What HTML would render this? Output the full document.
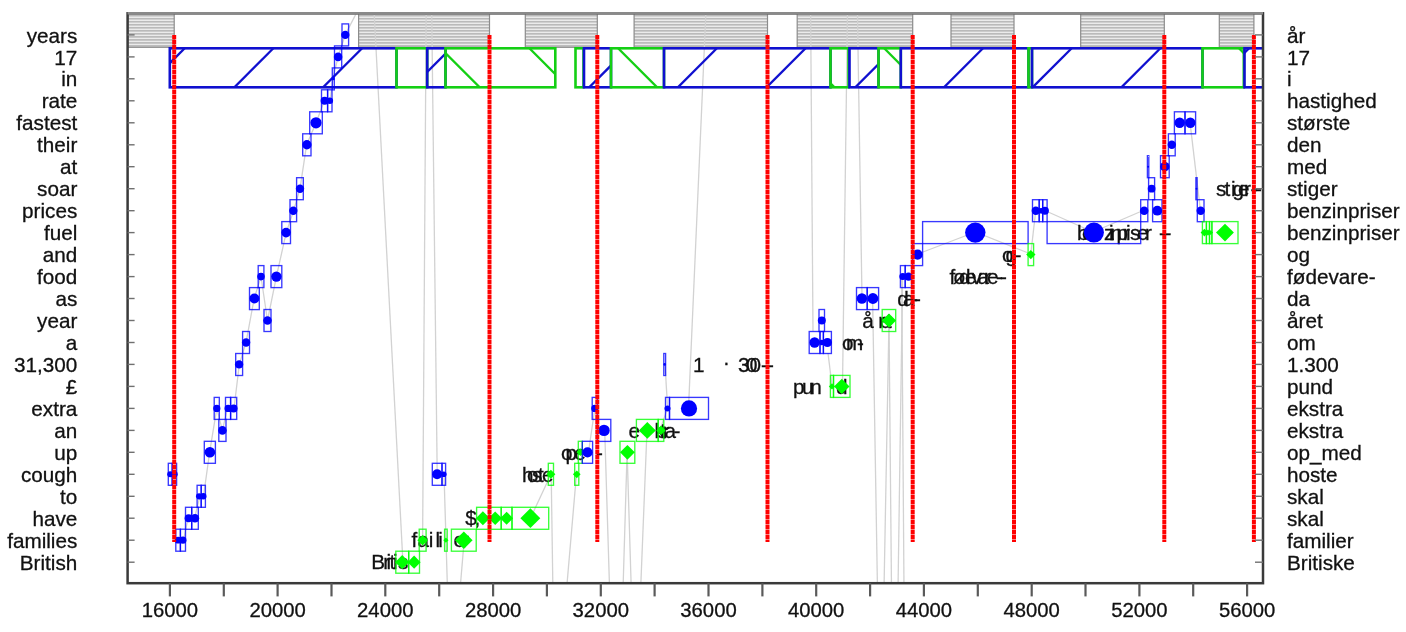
<!DOCTYPE html>
<html><head><meta charset="utf-8"><title>Fixation plot</title>
<style>html,body{margin:0;padding:0;background:#fff;overflow:hidden}svg{display:block;filter:blur(0.45px)}</style>
</head><body>
<svg width="1406" height="632" viewBox="0 0 1406 632">
<defs><pattern id="hz" x="0" y="14.2" width="6" height="3.02" patternUnits="userSpaceOnUse"><rect x="0" y="0" width="6" height="3.02" fill="#ebebeb"/><rect x="0" y="0.9" width="6" height="1.3" fill="#b0b0b0"/></pattern><clipPath id="plot"><rect x="127.6" y="13.3" width="1135.4" height="569.9"/></clipPath></defs>
<rect x="127.6" y="13.3" width="46.6" height="34.0" fill="url(#hz)" stroke="#8c8c8c" stroke-width="1.2"/>
<rect x="358.6" y="13.3" width="130.9" height="34.0" fill="url(#hz)" stroke="#8c8c8c" stroke-width="1.2"/>
<rect x="525.3" y="13.3" width="72.0" height="34.0" fill="url(#hz)" stroke="#8c8c8c" stroke-width="1.2"/>
<rect x="634.1" y="13.3" width="133.4" height="34.0" fill="url(#hz)" stroke="#8c8c8c" stroke-width="1.2"/>
<rect x="797.2" y="13.3" width="115.5" height="34.0" fill="url(#hz)" stroke="#8c8c8c" stroke-width="1.2"/>
<rect x="951.0" y="13.3" width="63.0" height="34.0" fill="url(#hz)" stroke="#8c8c8c" stroke-width="1.2"/>
<rect x="1080.7" y="13.3" width="83.6" height="34.0" fill="url(#hz)" stroke="#8c8c8c" stroke-width="1.2"/>
<rect x="1219.3" y="13.3" width="34.6" height="34.0" fill="url(#hz)" stroke="#8c8c8c" stroke-width="1.2"/>
<g clip-path="url(#plot)">
<line x1="345.3" y1="34.6" x2="358.0" y2="10.0" stroke="#d2d2d2" stroke-width="1.3"/>
<line x1="374.0" y1="10.0" x2="402.9" y2="561.7" stroke="#d2d2d2" stroke-width="1.3"/>
<line x1="426.2" y1="10.0" x2="422.6" y2="539.7" stroke="#d2d2d2" stroke-width="1.3"/>
<line x1="431.7" y1="10.0" x2="437.2" y2="473.8" stroke="#d2d2d2" stroke-width="1.3"/>
<line x1="444.0" y1="473.8" x2="447.5" y2="590.0" stroke="#d2d2d2" stroke-width="1.3"/>
<line x1="464.2" y1="540.0" x2="460.0" y2="590.0" stroke="#d2d2d2" stroke-width="1.3"/>
<line x1="530.7" y1="517.7" x2="551.2" y2="473.8" stroke="#d2d2d2" stroke-width="1.3"/>
<line x1="551.2" y1="473.8" x2="552.9" y2="590.0" stroke="#d2d2d2" stroke-width="1.3"/>
<line x1="576.5" y1="473.8" x2="566.5" y2="590.0" stroke="#d2d2d2" stroke-width="1.3"/>
<line x1="588.5" y1="452.0" x2="594.9" y2="408.0" stroke="#d2d2d2" stroke-width="1.3"/>
<line x1="604.7" y1="430.0" x2="609.6" y2="590.0" stroke="#d2d2d2" stroke-width="1.3"/>
<line x1="627.1" y1="452.0" x2="623.0" y2="590.0" stroke="#d2d2d2" stroke-width="1.3"/>
<line x1="627.1" y1="452.0" x2="631.3" y2="590.0" stroke="#d2d2d2" stroke-width="1.3"/>
<line x1="647.0" y1="430.0" x2="640.6" y2="590.0" stroke="#d2d2d2" stroke-width="1.3"/>
<line x1="660.0" y1="430.0" x2="667.6" y2="408.0" stroke="#d2d2d2" stroke-width="1.3"/>
<line x1="706.0" y1="10.0" x2="688.5" y2="408.0" stroke="#d2d2d2" stroke-width="1.3"/>
<line x1="665.0" y1="364.0" x2="667.6" y2="408.0" stroke="#d2d2d2" stroke-width="1.3"/>
<line x1="810.6" y1="10.0" x2="813.0" y2="331.0" stroke="#d2d2d2" stroke-width="1.3"/>
<line x1="847.5" y1="10.0" x2="842.5" y2="386.0" stroke="#d2d2d2" stroke-width="1.3"/>
<line x1="857.4" y1="10.0" x2="862.0" y2="298.0" stroke="#d2d2d2" stroke-width="1.3"/>
<line x1="828.0" y1="353.0" x2="832.0" y2="386.0" stroke="#d2d2d2" stroke-width="1.3"/>
<line x1="872.6" y1="298.0" x2="877.5" y2="590.0" stroke="#d2d2d2" stroke-width="1.3"/>
<line x1="889.0" y1="320.0" x2="891.5" y2="590.0" stroke="#d2d2d2" stroke-width="1.3"/>
<line x1="901.7" y1="276.0" x2="904.0" y2="590.0" stroke="#d2d2d2" stroke-width="1.3"/>
<line x1="884.0" y1="590.0" x2="889.0" y2="320.0" stroke="#d2d2d2" stroke-width="1.3"/>
<line x1="898.0" y1="590.0" x2="902.6" y2="276.0" stroke="#d2d2d2" stroke-width="1.3"/>
<line x1="917.8" y1="254.0" x2="975.4" y2="232.0" stroke="#d2d2d2" stroke-width="1.3"/>
<line x1="975.4" y1="232.0" x2="1030.8" y2="254.0" stroke="#d2d2d2" stroke-width="1.3"/>
<line x1="1030.8" y1="254.0" x2="1035.8" y2="210.0" stroke="#d2d2d2" stroke-width="1.3"/>
<line x1="1043.7" y1="210.0" x2="1093.0" y2="232.0" stroke="#d2d2d2" stroke-width="1.3"/>
<line x1="1093.0" y1="232.0" x2="1144.3" y2="210.0" stroke="#d2d2d2" stroke-width="1.3"/>
<line x1="1190.0" y1="122.4" x2="1200.4" y2="210.0" stroke="#d2d2d2" stroke-width="1.3"/>
<polyline fill="none" stroke="#d2d2d2" stroke-width="1.3" points="179.4,540.2 183.5,540.2 188.1,518.2 194.5,518.2 199.9,496.3 203.5,496.3 209.6,452.3 216.8,408.4 222.4,430.4 227.5,408.4 234.0,408.4 239.3,364.4 246.0,342.5 254.2,298.5 261.0,276.6 267.5,320.5 276.4,276.6 286.2,232.6 293.6,210.7 300.0,188.7 306.6,144.8 316.1,122.8 324.3,100.8 330.0,100.8 333.0,78.8 338.0,56.9 345.3,34.9"/>
<clipPath id="c1"><rect x="169.8" y="48.3" width="226.7" height="39.0"/></clipPath>
<line clip-path="url(#c1)" x1="145.7" y1="87.3" x2="184.7" y2="48.3" stroke="#1010cf" stroke-width="2.3"/>
<line clip-path="url(#c1)" x1="234.4" y1="87.3" x2="273.4" y2="48.3" stroke="#1010cf" stroke-width="2.3"/>
<line clip-path="url(#c1)" x1="323.1" y1="87.3" x2="362.1" y2="48.3" stroke="#1010cf" stroke-width="2.3"/>
<rect x="169.8" y="48.3" width="226.7" height="39.0" fill="none" stroke="#1010cf" stroke-width="2.6"/>
<clipPath id="c2"><rect x="396.5" y="48.3" width="30.7" height="39.0"/></clipPath>
<rect x="396.5" y="48.3" width="30.7" height="39.0" fill="none" stroke="#14cf14" stroke-width="2.6"/>
<clipPath id="c3"><rect x="427.2" y="48.3" width="18.3" height="39.0"/></clipPath>
<line clip-path="url(#c3)" x1="411.8" y1="87.3" x2="450.8" y2="48.3" stroke="#1010cf" stroke-width="2.3"/>
<rect x="427.2" y="48.3" width="18.3" height="39.0" fill="none" stroke="#1010cf" stroke-width="2.6"/>
<clipPath id="c4"><rect x="445.5" y="48.3" width="109.8" height="39.0"/></clipPath>
<line clip-path="url(#c4)" x1="440.7" y1="48.3" x2="479.7" y2="87.3" stroke="#14cf14" stroke-width="2.3"/>
<line clip-path="url(#c4)" x1="529.4" y1="48.3" x2="568.4" y2="87.3" stroke="#14cf14" stroke-width="2.3"/>
<rect x="445.5" y="48.3" width="109.8" height="39.0" fill="none" stroke="#14cf14" stroke-width="2.6"/>
<clipPath id="c5"><rect x="575.5" y="48.3" width="8.0" height="39.0"/></clipPath>
<rect x="575.5" y="48.3" width="8.0" height="39.0" fill="none" stroke="#14cf14" stroke-width="2.6"/>
<clipPath id="c6"><rect x="584.0" y="48.3" width="27.0" height="39.0"/></clipPath>
<line clip-path="url(#c6)" x1="589.2" y1="87.3" x2="628.2" y2="48.3" stroke="#1010cf" stroke-width="2.3"/>
<rect x="584.0" y="48.3" width="27.0" height="39.0" fill="none" stroke="#1010cf" stroke-width="2.6"/>
<clipPath id="c7"><rect x="611.0" y="48.3" width="53.0" height="39.0"/></clipPath>
<line clip-path="url(#c7)" x1="618.1" y1="48.3" x2="657.1" y2="87.3" stroke="#14cf14" stroke-width="2.3"/>
<rect x="611.0" y="48.3" width="53.0" height="39.0" fill="none" stroke="#14cf14" stroke-width="2.6"/>
<clipPath id="c8"><rect x="664.0" y="48.3" width="166.5" height="39.0"/></clipPath>
<line clip-path="url(#c8)" x1="677.9" y1="87.3" x2="716.9" y2="48.3" stroke="#1010cf" stroke-width="2.3"/>
<line clip-path="url(#c8)" x1="766.6" y1="87.3" x2="805.6" y2="48.3" stroke="#1010cf" stroke-width="2.3"/>
<rect x="664.0" y="48.3" width="166.5" height="39.0" fill="none" stroke="#1010cf" stroke-width="2.6"/>
<clipPath id="c9"><rect x="830.5" y="48.3" width="18.0" height="39.0"/></clipPath>
<line clip-path="url(#c9)" x1="795.5" y1="48.3" x2="834.5" y2="87.3" stroke="#14cf14" stroke-width="2.3"/>
<rect x="830.5" y="48.3" width="18.0" height="39.0" fill="none" stroke="#14cf14" stroke-width="2.6"/>
<clipPath id="c10"><rect x="849.5" y="48.3" width="29.0" height="39.0"/></clipPath>
<line clip-path="url(#c10)" x1="855.3" y1="87.3" x2="894.3" y2="48.3" stroke="#1010cf" stroke-width="2.3"/>
<rect x="849.5" y="48.3" width="29.0" height="39.0" fill="none" stroke="#1010cf" stroke-width="2.6"/>
<clipPath id="c11"><rect x="878.5" y="48.3" width="22.3" height="39.0"/></clipPath>
<line clip-path="url(#c11)" x1="884.2" y1="48.3" x2="923.2" y2="87.3" stroke="#14cf14" stroke-width="2.3"/>
<rect x="878.5" y="48.3" width="22.3" height="39.0" fill="none" stroke="#14cf14" stroke-width="2.6"/>
<clipPath id="c12"><rect x="900.8" y="48.3" width="127.7" height="39.0"/></clipPath>
<line clip-path="url(#c12)" x1="944.0" y1="87.3" x2="983.0" y2="48.3" stroke="#1010cf" stroke-width="2.3"/>
<rect x="900.8" y="48.3" width="127.7" height="39.0" fill="none" stroke="#1010cf" stroke-width="2.6"/>
<clipPath id="c13"><rect x="1028.5" y="48.3" width="3.5" height="39.0"/></clipPath>
<rect x="1028.5" y="48.3" width="3.5" height="39.0" fill="none" stroke="#14cf14" stroke-width="2.6"/>
<clipPath id="c14"><rect x="1032.0" y="48.3" width="170.5" height="39.0"/></clipPath>
<line clip-path="url(#c14)" x1="1032.7" y1="87.3" x2="1071.7" y2="48.3" stroke="#1010cf" stroke-width="2.3"/>
<line clip-path="url(#c14)" x1="1121.4" y1="87.3" x2="1160.4" y2="48.3" stroke="#1010cf" stroke-width="2.3"/>
<rect x="1032.0" y="48.3" width="170.5" height="39.0" fill="none" stroke="#1010cf" stroke-width="2.6"/>
<clipPath id="c15"><rect x="1202.5" y="48.3" width="41.3" height="39.0"/></clipPath>
<line clip-path="url(#c15)" x1="1239.0" y1="48.3" x2="1278.0" y2="87.3" stroke="#14cf14" stroke-width="2.3"/>
<rect x="1202.5" y="48.3" width="41.3" height="39.0" fill="none" stroke="#14cf14" stroke-width="2.6"/>
<clipPath id="c16"><rect x="1244.5" y="48.3" width="30.5" height="39.0"/></clipPath>
<line clip-path="url(#c16)" x1="1210.1" y1="87.3" x2="1249.1" y2="48.3" stroke="#1010cf" stroke-width="2.3"/>
<rect x="1244.5" y="48.3" width="30.5" height="39.0" fill="none" stroke="#1010cf" stroke-width="2.6"/>
<text x="371.2" y="569.4" font-family="Liberation Sans, Arial, Helvetica, sans-serif" font-size="20.7" fill="#111" stroke="#111" stroke-width="0.3" text-anchor="start" >B</text>
<text x="383.3" y="569.4" font-family="Liberation Sans, Arial, Helvetica, sans-serif" font-size="20.7" fill="#111" stroke="#111" stroke-width="0.3" text-anchor="start" >r</text>
<text x="386.5" y="569.4" font-family="Liberation Sans, Arial, Helvetica, sans-serif" font-size="20.7" fill="#111" stroke="#111" stroke-width="0.3" text-anchor="start" >i</text>
<text x="389.5" y="569.4" font-family="Liberation Sans, Arial, Helvetica, sans-serif" font-size="20.7" fill="#111" stroke="#111" stroke-width="0.3" text-anchor="start" >t</text>
<text x="393.0" y="569.4" font-family="Liberation Sans, Arial, Helvetica, sans-serif" font-size="20.7" fill="#111" stroke="#111" stroke-width="0.3" text-anchor="start" >i</text>
<text x="398.0" y="569.4" font-family="Liberation Sans, Arial, Helvetica, sans-serif" font-size="20.7" fill="#111" stroke="#111" stroke-width="0.3" text-anchor="start" >s</text>
<text x="411.6" y="547.4" font-family="Liberation Sans, Arial, Helvetica, sans-serif" font-size="20.7" fill="#111" stroke="#111" stroke-width="0.3" text-anchor="start" >f</text>
<text x="417.5" y="547.4" font-family="Liberation Sans, Arial, Helvetica, sans-serif" font-size="20.7" fill="#111" stroke="#111" stroke-width="0.3" text-anchor="start" >a</text>
<text x="428.7" y="547.4" font-family="Liberation Sans, Arial, Helvetica, sans-serif" font-size="20.7" fill="#111" stroke="#111" stroke-width="0.3" text-anchor="start" >i</text>
<text x="435.5" y="547.4" font-family="Liberation Sans, Arial, Helvetica, sans-serif" font-size="20.7" fill="#111" stroke="#111" stroke-width="0.3" text-anchor="start" >l</text>
<text x="438.3" y="547.4" font-family="Liberation Sans, Arial, Helvetica, sans-serif" font-size="20.7" fill="#111" stroke="#111" stroke-width="0.3" text-anchor="start" >i</text>
<text x="453.5" y="547.4" font-family="Liberation Sans, Arial, Helvetica, sans-serif" font-size="20.7" fill="#111" stroke="#111" stroke-width="0.3" text-anchor="start" >e</text>
<text x="462.0" y="547.4" font-family="Liberation Sans, Arial, Helvetica, sans-serif" font-size="20.7" fill="#111" stroke="#111" stroke-width="0.3" text-anchor="start" >r</text>
<text x="465.3" y="525.4" font-family="Liberation Sans, Arial, Helvetica, sans-serif" font-size="20.7" fill="#111" stroke="#111" stroke-width="0.3" text-anchor="start" >$</text>
<text x="474.5" y="525.4" font-family="Liberation Sans, Arial, Helvetica, sans-serif" font-size="20.7" fill="#111" stroke="#111" stroke-width="0.3" text-anchor="start" >,</text>
<text x="522.0" y="481.5" font-family="Liberation Sans, Arial, Helvetica, sans-serif" font-size="20.7" fill="#111" stroke="#111" stroke-width="0.3" text-anchor="start" >h</text>
<text x="527.0" y="481.5" font-family="Liberation Sans, Arial, Helvetica, sans-serif" font-size="20.7" fill="#111" stroke="#111" stroke-width="0.3" text-anchor="start" >o</text>
<text x="532.0" y="481.5" font-family="Liberation Sans, Arial, Helvetica, sans-serif" font-size="20.7" fill="#111" stroke="#111" stroke-width="0.3" text-anchor="start" >s</text>
<text x="538.0" y="481.5" font-family="Liberation Sans, Arial, Helvetica, sans-serif" font-size="20.7" fill="#111" stroke="#111" stroke-width="0.3" text-anchor="start" >t</text>
<text x="542.0" y="481.5" font-family="Liberation Sans, Arial, Helvetica, sans-serif" font-size="20.7" fill="#111" stroke="#111" stroke-width="0.3" text-anchor="start" >e</text>
<text x="561.0" y="459.5" font-family="Liberation Sans, Arial, Helvetica, sans-serif" font-size="20.7" fill="#111" stroke="#111" stroke-width="0.3" text-anchor="start" >o</text>
<text x="565.5" y="459.5" font-family="Liberation Sans, Arial, Helvetica, sans-serif" font-size="20.7" fill="#111" stroke="#111" stroke-width="0.3" text-anchor="start" >p</text>
<text x="574.3" y="459.5" font-family="Liberation Sans, Arial, Helvetica, sans-serif" font-size="20.7" fill="#111" stroke="#111" stroke-width="0.3" text-anchor="start" >e</text>
<text x="596.0" y="459.5" font-family="Liberation Sans, Arial, Helvetica, sans-serif" font-size="20.7" fill="#111" stroke="#111" stroke-width="0.3" text-anchor="start" >-</text>
<text x="628.5" y="437.6" font-family="Liberation Sans, Arial, Helvetica, sans-serif" font-size="20.7" fill="#111" stroke="#111" stroke-width="0.3" text-anchor="start" >e</text>
<text x="654.5" y="437.6" font-family="Liberation Sans, Arial, Helvetica, sans-serif" font-size="20.7" fill="#111" stroke="#111" stroke-width="0.3" text-anchor="start" >k</text>
<text x="657.0" y="437.6" font-family="Liberation Sans, Arial, Helvetica, sans-serif" font-size="20.7" fill="#111" stroke="#111" stroke-width="0.3" text-anchor="start" >s</text>
<text x="660.0" y="437.6" font-family="Liberation Sans, Arial, Helvetica, sans-serif" font-size="20.7" fill="#111" stroke="#111" stroke-width="0.3" text-anchor="start" >t</text>
<text x="662.5" y="437.6" font-family="Liberation Sans, Arial, Helvetica, sans-serif" font-size="20.7" fill="#111" stroke="#111" stroke-width="0.3" text-anchor="start" >r</text>
<text x="664.5" y="437.6" font-family="Liberation Sans, Arial, Helvetica, sans-serif" font-size="20.7" fill="#111" stroke="#111" stroke-width="0.3" text-anchor="start" >a</text>
<text x="673.5" y="437.6" font-family="Liberation Sans, Arial, Helvetica, sans-serif" font-size="20.7" fill="#111" stroke="#111" stroke-width="0.3" text-anchor="start" >-</text>
<text x="693.0" y="371.6" font-family="Liberation Sans, Arial, Helvetica, sans-serif" font-size="20.7" fill="#111" stroke="#111" stroke-width="0.3" text-anchor="start" >1</text>
<text x="723.5" y="365.1" font-family="Liberation Sans, Arial, Helvetica, sans-serif" font-size="20.7" fill="#111" stroke="#111" stroke-width="0.3" text-anchor="start" >.</text>
<text x="738.0" y="371.6" font-family="Liberation Sans, Arial, Helvetica, sans-serif" font-size="20.7" fill="#111" stroke="#111" stroke-width="0.3" text-anchor="start" >3</text>
<text x="746.0" y="371.6" font-family="Liberation Sans, Arial, Helvetica, sans-serif" font-size="20.7" fill="#111" stroke="#111" stroke-width="0.3" text-anchor="start" >0</text>
<text x="749.5" y="371.6" font-family="Liberation Sans, Arial, Helvetica, sans-serif" font-size="20.7" fill="#111" stroke="#111" stroke-width="0.3" text-anchor="start" >0</text>
<text x="761.0" y="371.6" font-family="Liberation Sans, Arial, Helvetica, sans-serif" font-size="20.7" fill="#111" stroke="#111" stroke-width="0.3" text-anchor="start" >-</text>
<text x="767.0" y="371.6" font-family="Liberation Sans, Arial, Helvetica, sans-serif" font-size="20.7" fill="#111" stroke="#111" stroke-width="0.3" text-anchor="start" >-</text>
<text x="793.0" y="393.6" font-family="Liberation Sans, Arial, Helvetica, sans-serif" font-size="20.7" fill="#111" stroke="#111" stroke-width="0.3" text-anchor="start" >p</text>
<text x="802.0" y="393.6" font-family="Liberation Sans, Arial, Helvetica, sans-serif" font-size="20.7" fill="#111" stroke="#111" stroke-width="0.3" text-anchor="start" >u</text>
<text x="810.3" y="393.6" font-family="Liberation Sans, Arial, Helvetica, sans-serif" font-size="20.7" fill="#111" stroke="#111" stroke-width="0.3" text-anchor="start" >n</text>
<text x="836.0" y="393.6" font-family="Liberation Sans, Arial, Helvetica, sans-serif" font-size="20.7" fill="#111" stroke="#111" stroke-width="0.3" text-anchor="start" >d</text>
<text x="842.0" y="349.7" font-family="Liberation Sans, Arial, Helvetica, sans-serif" font-size="20.7" fill="#111" stroke="#111" stroke-width="0.3" text-anchor="start" >o</text>
<text x="846.0" y="349.7" font-family="Liberation Sans, Arial, Helvetica, sans-serif" font-size="20.7" fill="#111" stroke="#111" stroke-width="0.3" text-anchor="start" >m</text>
<text x="857.0" y="349.7" font-family="Liberation Sans, Arial, Helvetica, sans-serif" font-size="20.7" fill="#111" stroke="#111" stroke-width="0.3" text-anchor="start" >-</text>
<text x="862.3" y="327.7" font-family="Liberation Sans, Arial, Helvetica, sans-serif" font-size="20.7" fill="#111" stroke="#111" stroke-width="0.3" text-anchor="start" >å</text>
<text x="878.3" y="327.7" font-family="Liberation Sans, Arial, Helvetica, sans-serif" font-size="20.7" fill="#111" stroke="#111" stroke-width="0.3" text-anchor="start" >r</text>
<text x="879.6" y="327.7" font-family="Liberation Sans, Arial, Helvetica, sans-serif" font-size="20.7" fill="#111" stroke="#111" stroke-width="0.3" text-anchor="start" >e</text>
<text x="886.0" y="327.7" font-family="Liberation Sans, Arial, Helvetica, sans-serif" font-size="20.7" fill="#111" stroke="#111" stroke-width="0.3" text-anchor="start" >t</text>
<text x="897.3" y="305.7" font-family="Liberation Sans, Arial, Helvetica, sans-serif" font-size="20.7" fill="#111" stroke="#111" stroke-width="0.3" text-anchor="start" >d</text>
<text x="903.0" y="305.7" font-family="Liberation Sans, Arial, Helvetica, sans-serif" font-size="20.7" fill="#111" stroke="#111" stroke-width="0.3" text-anchor="start" >a</text>
<text x="911.0" y="305.7" font-family="Liberation Sans, Arial, Helvetica, sans-serif" font-size="20.7" fill="#111" stroke="#111" stroke-width="0.3" text-anchor="start" >-</text>
<text x="914.0" y="305.7" font-family="Liberation Sans, Arial, Helvetica, sans-serif" font-size="20.7" fill="#111" stroke="#111" stroke-width="0.3" text-anchor="start" >-</text>
<text x="949.5" y="283.8" font-family="Liberation Sans, Arial, Helvetica, sans-serif" font-size="20.7" fill="#111" stroke="#111" stroke-width="0.3" text-anchor="start" >f</text>
<text x="953.0" y="283.8" font-family="Liberation Sans, Arial, Helvetica, sans-serif" font-size="20.7" fill="#111" stroke="#111" stroke-width="0.3" text-anchor="start" >ø</text>
<text x="959.0" y="283.8" font-family="Liberation Sans, Arial, Helvetica, sans-serif" font-size="20.7" fill="#111" stroke="#111" stroke-width="0.3" text-anchor="start" >d</text>
<text x="965.0" y="283.8" font-family="Liberation Sans, Arial, Helvetica, sans-serif" font-size="20.7" fill="#111" stroke="#111" stroke-width="0.3" text-anchor="start" >e</text>
<text x="971.5" y="283.8" font-family="Liberation Sans, Arial, Helvetica, sans-serif" font-size="20.7" fill="#111" stroke="#111" stroke-width="0.3" text-anchor="start" >v</text>
<text x="977.5" y="283.8" font-family="Liberation Sans, Arial, Helvetica, sans-serif" font-size="20.7" fill="#111" stroke="#111" stroke-width="0.3" text-anchor="start" >a</text>
<text x="984.0" y="283.8" font-family="Liberation Sans, Arial, Helvetica, sans-serif" font-size="20.7" fill="#111" stroke="#111" stroke-width="0.3" text-anchor="start" >r</text>
<text x="987.0" y="283.8" font-family="Liberation Sans, Arial, Helvetica, sans-serif" font-size="20.7" fill="#111" stroke="#111" stroke-width="0.3" text-anchor="start" >e</text>
<text x="996.0" y="283.8" font-family="Liberation Sans, Arial, Helvetica, sans-serif" font-size="20.7" fill="#111" stroke="#111" stroke-width="0.3" text-anchor="start" >-</text>
<text x="1000.0" y="283.8" font-family="Liberation Sans, Arial, Helvetica, sans-serif" font-size="20.7" fill="#111" stroke="#111" stroke-width="0.3" text-anchor="start" >-</text>
<text x="1002.0" y="261.8" font-family="Liberation Sans, Arial, Helvetica, sans-serif" font-size="20.7" fill="#111" stroke="#111" stroke-width="0.3" text-anchor="start" >o</text>
<text x="1005.5" y="261.8" font-family="Liberation Sans, Arial, Helvetica, sans-serif" font-size="20.7" fill="#111" stroke="#111" stroke-width="0.3" text-anchor="start" >g</text>
<text x="1014.5" y="261.8" font-family="Liberation Sans, Arial, Helvetica, sans-serif" font-size="20.7" fill="#111" stroke="#111" stroke-width="0.3" text-anchor="start" >-</text>
<text x="1077.0" y="239.8" font-family="Liberation Sans, Arial, Helvetica, sans-serif" font-size="20.7" fill="#111" stroke="#111" stroke-width="0.3" text-anchor="start" >b</text>
<text x="1082.0" y="239.8" font-family="Liberation Sans, Arial, Helvetica, sans-serif" font-size="20.7" fill="#111" stroke="#111" stroke-width="0.3" text-anchor="start" >e</text>
<text x="1090.0" y="239.8" font-family="Liberation Sans, Arial, Helvetica, sans-serif" font-size="20.7" fill="#111" stroke="#111" stroke-width="0.3" text-anchor="start" >n</text>
<text x="1104.0" y="239.8" font-family="Liberation Sans, Arial, Helvetica, sans-serif" font-size="20.7" fill="#111" stroke="#111" stroke-width="0.3" text-anchor="start" >z</text>
<text x="1109.0" y="239.8" font-family="Liberation Sans, Arial, Helvetica, sans-serif" font-size="20.7" fill="#111" stroke="#111" stroke-width="0.3" text-anchor="start" >i</text>
<text x="1110.5" y="239.8" font-family="Liberation Sans, Arial, Helvetica, sans-serif" font-size="20.7" fill="#111" stroke="#111" stroke-width="0.3" text-anchor="start" >n</text>
<text x="1116.5" y="239.8" font-family="Liberation Sans, Arial, Helvetica, sans-serif" font-size="20.7" fill="#111" stroke="#111" stroke-width="0.3" text-anchor="start" >p</text>
<text x="1123.0" y="239.8" font-family="Liberation Sans, Arial, Helvetica, sans-serif" font-size="20.7" fill="#111" stroke="#111" stroke-width="0.3" text-anchor="start" >r</text>
<text x="1126.0" y="239.8" font-family="Liberation Sans, Arial, Helvetica, sans-serif" font-size="20.7" fill="#111" stroke="#111" stroke-width="0.3" text-anchor="start" >i</text>
<text x="1130.0" y="239.8" font-family="Liberation Sans, Arial, Helvetica, sans-serif" font-size="20.7" fill="#111" stroke="#111" stroke-width="0.3" text-anchor="start" >s</text>
<text x="1137.0" y="239.8" font-family="Liberation Sans, Arial, Helvetica, sans-serif" font-size="20.7" fill="#111" stroke="#111" stroke-width="0.3" text-anchor="start" >e</text>
<text x="1145.0" y="239.8" font-family="Liberation Sans, Arial, Helvetica, sans-serif" font-size="20.7" fill="#111" stroke="#111" stroke-width="0.3" text-anchor="start" >r</text>
<text x="1159.0" y="239.8" font-family="Liberation Sans, Arial, Helvetica, sans-serif" font-size="20.7" fill="#111" stroke="#111" stroke-width="0.3" text-anchor="start" >-</text>
<text x="1164.5" y="239.8" font-family="Liberation Sans, Arial, Helvetica, sans-serif" font-size="20.7" fill="#111" stroke="#111" stroke-width="0.3" text-anchor="start" >-</text>
<text x="1216.0" y="195.9" font-family="Liberation Sans, Arial, Helvetica, sans-serif" font-size="20.7" fill="#111" stroke="#111" stroke-width="0.3" text-anchor="start" >s</text>
<text x="1224.5" y="195.9" font-family="Liberation Sans, Arial, Helvetica, sans-serif" font-size="20.7" fill="#111" stroke="#111" stroke-width="0.3" text-anchor="start" >t</text>
<text x="1231.0" y="195.9" font-family="Liberation Sans, Arial, Helvetica, sans-serif" font-size="20.7" fill="#111" stroke="#111" stroke-width="0.3" text-anchor="start" >i</text>
<text x="1232.5" y="195.9" font-family="Liberation Sans, Arial, Helvetica, sans-serif" font-size="20.7" fill="#111" stroke="#111" stroke-width="0.3" text-anchor="start" >g</text>
<text x="1238.0" y="195.9" font-family="Liberation Sans, Arial, Helvetica, sans-serif" font-size="20.7" fill="#111" stroke="#111" stroke-width="0.3" text-anchor="start" >e</text>
<text x="1244.0" y="195.9" font-family="Liberation Sans, Arial, Helvetica, sans-serif" font-size="20.7" fill="#111" stroke="#111" stroke-width="0.3" text-anchor="start" >r</text>
<text x="1250.5" y="195.9" font-family="Liberation Sans, Arial, Helvetica, sans-serif" font-size="20.7" fill="#111" stroke="#111" stroke-width="0.3" text-anchor="start" >-</text>
<text x="1255.0" y="195.9" font-family="Liberation Sans, Arial, Helvetica, sans-serif" font-size="20.7" fill="#111" stroke="#111" stroke-width="0.3" text-anchor="start" >-</text>
<rect x="342.0" y="23.9" width="6.6" height="22.0" fill="none" stroke="#0000ff" stroke-width="1.35" stroke-opacity="0.78"/>
<circle cx="345.3" cy="34.9" r="4.2" fill="#0000ff"/>
<rect x="334.5" y="45.9" width="7.2" height="22.0" fill="none" stroke="#0000ff" stroke-width="1.35" stroke-opacity="0.78"/>
<circle cx="338.1" cy="56.9" r="4.3" fill="#0000ff"/>
<rect x="332.3" y="67.9" width="2.0" height="22.0" fill="none" stroke="#0000ff" stroke-width="1.35" stroke-opacity="0.78"/>
<circle cx="333.3" cy="78.8" r="1.5" fill="#0000ff"/>
<rect x="321.5" y="89.8" width="6.1" height="22.0" fill="none" stroke="#0000ff" stroke-width="1.35" stroke-opacity="0.78"/>
<circle cx="324.6" cy="100.8" r="4.0" fill="#0000ff"/>
<rect x="327.6" y="89.8" width="4.4" height="22.0" fill="none" stroke="#0000ff" stroke-width="1.35" stroke-opacity="0.78"/>
<circle cx="329.8" cy="100.8" r="3.3" fill="#0000ff"/>
<rect x="309.7" y="111.8" width="12.6" height="22.0" fill="none" stroke="#0000ff" stroke-width="1.35" stroke-opacity="0.78"/>
<circle cx="316.0" cy="122.8" r="5.6" fill="#0000ff"/>
<rect x="302.7" y="133.8" width="8.3" height="22.0" fill="none" stroke="#0000ff" stroke-width="1.35" stroke-opacity="0.78"/>
<circle cx="306.9" cy="144.8" r="4.7" fill="#0000ff"/>
<rect x="296.6" y="177.7" width="6.7" height="22.0" fill="none" stroke="#0000ff" stroke-width="1.35" stroke-opacity="0.78"/>
<circle cx="300.0" cy="188.7" r="4.2" fill="#0000ff"/>
<rect x="290.0" y="199.7" width="6.6" height="22.0" fill="none" stroke="#0000ff" stroke-width="1.35" stroke-opacity="0.78"/>
<circle cx="293.3" cy="210.7" r="4.2" fill="#0000ff"/>
<rect x="281.8" y="221.6" width="8.7" height="22.0" fill="none" stroke="#0000ff" stroke-width="1.35" stroke-opacity="0.78"/>
<circle cx="286.1" cy="232.6" r="4.8" fill="#0000ff"/>
<rect x="258.2" y="265.6" width="5.7" height="22.0" fill="none" stroke="#0000ff" stroke-width="1.35" stroke-opacity="0.78"/>
<circle cx="261.0" cy="276.6" r="3.8" fill="#0000ff"/>
<rect x="271.0" y="265.6" width="10.8" height="22.0" fill="none" stroke="#0000ff" stroke-width="1.35" stroke-opacity="0.78"/>
<circle cx="276.4" cy="276.6" r="5.2" fill="#0000ff"/>
<rect x="249.5" y="287.6" width="9.8" height="22.0" fill="none" stroke="#0000ff" stroke-width="1.35" stroke-opacity="0.78"/>
<circle cx="254.4" cy="298.5" r="5.0" fill="#0000ff"/>
<rect x="264.0" y="309.5" width="7.0" height="22.0" fill="none" stroke="#0000ff" stroke-width="1.35" stroke-opacity="0.78"/>
<circle cx="267.5" cy="320.5" r="4.3" fill="#0000ff"/>
<rect x="242.6" y="331.5" width="6.9" height="22.0" fill="none" stroke="#0000ff" stroke-width="1.35" stroke-opacity="0.78"/>
<circle cx="246.1" cy="342.5" r="4.2" fill="#0000ff"/>
<rect x="235.7" y="353.5" width="6.9" height="22.0" fill="none" stroke="#0000ff" stroke-width="1.35" stroke-opacity="0.78"/>
<circle cx="239.1" cy="364.4" r="4.2" fill="#0000ff"/>
<rect x="214.2" y="397.4" width="5.1" height="22.0" fill="none" stroke="#0000ff" stroke-width="1.35" stroke-opacity="0.78"/>
<circle cx="216.8" cy="408.4" r="3.6" fill="#0000ff"/>
<rect x="225.5" y="397.4" width="5.1" height="22.0" fill="none" stroke="#0000ff" stroke-width="1.35" stroke-opacity="0.78"/>
<circle cx="228.1" cy="408.4" r="3.6" fill="#0000ff"/>
<rect x="230.6" y="397.4" width="6.1" height="22.0" fill="none" stroke="#0000ff" stroke-width="1.35" stroke-opacity="0.78"/>
<circle cx="233.6" cy="408.4" r="4.0" fill="#0000ff"/>
<rect x="218.8" y="419.4" width="7.2" height="22.0" fill="none" stroke="#0000ff" stroke-width="1.35" stroke-opacity="0.78"/>
<circle cx="222.4" cy="430.4" r="4.3" fill="#0000ff"/>
<rect x="204.3" y="441.3" width="11.1" height="22.0" fill="none" stroke="#0000ff" stroke-width="1.35" stroke-opacity="0.78"/>
<circle cx="209.9" cy="452.3" r="5.3" fill="#0000ff"/>
<rect x="168.3" y="463.3" width="3.9" height="22.0" fill="none" stroke="#0000ff" stroke-width="1.35" stroke-opacity="0.78"/>
<circle cx="170.2" cy="474.3" r="3.0" fill="#0000ff"/>
<rect x="172.2" y="463.3" width="4.4" height="22.0" fill="none" stroke="#0000ff" stroke-width="1.35" stroke-opacity="0.78"/>
<circle cx="174.4" cy="474.3" r="3.3" fill="#0000ff"/>
<rect x="197.1" y="485.3" width="4.1" height="22.0" fill="none" stroke="#0000ff" stroke-width="1.35" stroke-opacity="0.78"/>
<circle cx="199.1" cy="496.3" r="3.1" fill="#0000ff"/>
<rect x="201.2" y="485.3" width="4.2" height="22.0" fill="none" stroke="#0000ff" stroke-width="1.35" stroke-opacity="0.78"/>
<circle cx="203.3" cy="496.3" r="3.2" fill="#0000ff"/>
<rect x="185.5" y="507.3" width="6.2" height="22.0" fill="none" stroke="#0000ff" stroke-width="1.35" stroke-opacity="0.78"/>
<circle cx="188.6" cy="518.2" r="4.0" fill="#0000ff"/>
<rect x="191.7" y="507.3" width="6.6" height="22.0" fill="none" stroke="#0000ff" stroke-width="1.35" stroke-opacity="0.78"/>
<circle cx="195.0" cy="518.2" r="4.2" fill="#0000ff"/>
<rect x="175.8" y="529.2" width="4.6" height="22.0" fill="none" stroke="#0000ff" stroke-width="1.35" stroke-opacity="0.78"/>
<circle cx="178.1" cy="540.2" r="3.4" fill="#0000ff"/>
<rect x="180.4" y="529.2" width="5.1" height="22.0" fill="none" stroke="#0000ff" stroke-width="1.35" stroke-opacity="0.78"/>
<circle cx="182.9" cy="540.2" r="3.6" fill="#0000ff"/>
<rect x="432.3" y="463.3" width="9.7" height="22.0" fill="none" stroke="#0000ff" stroke-width="1.35" stroke-opacity="0.78"/>
<circle cx="437.1" cy="474.3" r="5.0" fill="#0000ff"/>
<rect x="442.0" y="463.3" width="3.6" height="22.0" fill="none" stroke="#0000ff" stroke-width="1.35" stroke-opacity="0.78"/>
<circle cx="443.8" cy="474.3" r="2.8" fill="#0000ff"/>
<rect x="395.8" y="551.2" width="12.9" height="22.0" fill="none" stroke="#00ff00" stroke-width="1.35" stroke-opacity="0.78"/>
<path d="M395.2 562.2 L402.2 555.1 L409.3 562.2 L402.2 569.2 Z" fill="#00ff00"/>
<rect x="408.7" y="551.2" width="10.8" height="22.0" fill="none" stroke="#00ff00" stroke-width="1.35" stroke-opacity="0.78"/>
<path d="M407.6 562.2 L414.1 555.6 L420.6 562.2 L414.1 568.7 Z" fill="#00ff00"/>
<rect x="419.2" y="529.2" width="6.9" height="22.0" fill="none" stroke="#00ff00" stroke-width="1.35" stroke-opacity="0.78"/>
<path d="M417.3 540.2 L422.6 534.9 L428.0 540.2 L422.6 545.5 Z" fill="#00ff00"/>
<rect x="444.6" y="529.2" width="2.6" height="22.0" fill="none" stroke="#00ff00" stroke-width="1.35" stroke-opacity="0.78"/>
<path d="M443.3 540.2 L445.9 537.6 L448.5 540.2 L445.9 542.8 Z" fill="#00ff00"/>
<rect x="451.4" y="529.2" width="24.8" height="22.0" fill="none" stroke="#00ff00" stroke-width="1.35" stroke-opacity="0.78"/>
<path d="M455.0 540.2 L463.8 531.4 L472.6 540.2 L463.8 549.0 Z" fill="#00ff00"/>
<rect x="476.6" y="507.3" width="12.6" height="22.0" fill="none" stroke="#00ff00" stroke-width="1.35" stroke-opacity="0.78"/>
<path d="M475.9 518.2 L482.9 511.3 L489.9 518.2 L482.9 525.2 Z" fill="#00ff00"/>
<rect x="489.2" y="507.3" width="12.0" height="22.0" fill="none" stroke="#00ff00" stroke-width="1.35" stroke-opacity="0.78"/>
<path d="M488.4 518.2 L495.2 511.4 L502.0 518.2 L495.2 525.1 Z" fill="#00ff00"/>
<rect x="501.2" y="507.3" width="10.8" height="22.0" fill="none" stroke="#00ff00" stroke-width="1.35" stroke-opacity="0.78"/>
<path d="M500.1 518.2 L506.6 511.7 L513.1 518.2 L506.6 524.8 Z" fill="#00ff00"/>
<rect x="512.0" y="507.3" width="36.7" height="22.0" fill="none" stroke="#00ff00" stroke-width="1.35" stroke-opacity="0.78"/>
<path d="M520.4 518.2 L530.4 508.3 L540.3 518.2 L530.4 528.1 Z" fill="#00ff00"/>
<rect x="548.3" y="463.3" width="5.2" height="22.0" fill="none" stroke="#00ff00" stroke-width="1.35" stroke-opacity="0.78"/>
<path d="M546.4 474.3 L550.9 469.8 L555.4 474.3 L550.9 478.8 Z" fill="#00ff00"/>
<rect x="574.7" y="463.3" width="4.1" height="22.0" fill="none" stroke="#00ff00" stroke-width="1.35" stroke-opacity="0.78"/>
<path d="M572.9 474.3 L576.8 470.4 L580.6 474.3 L576.8 478.2 Z" fill="#00ff00"/>
<rect x="578.3" y="441.3" width="4.0" height="22.0" fill="none" stroke="#00ff00" stroke-width="1.35" stroke-opacity="0.78"/>
<path d="M576.5 452.3 L580.3 448.5 L584.1 452.3 L580.3 456.1 Z" fill="#00ff00"/>
<rect x="582.3" y="441.3" width="10.3" height="22.0" fill="none" stroke="#0000ff" stroke-width="1.35" stroke-opacity="0.78"/>
<circle cx="587.5" cy="452.3" r="5.1" fill="#0000ff"/>
<rect x="620.0" y="441.3" width="14.8" height="22.0" fill="none" stroke="#00ff00" stroke-width="1.35" stroke-opacity="0.78"/>
<path d="M620.0 452.3 L627.4 444.9 L634.8 452.3 L627.4 459.7 Z" fill="#00ff00"/>
<rect x="597.3" y="419.4" width="13.5" height="22.0" fill="none" stroke="#0000ff" stroke-width="1.35" stroke-opacity="0.78"/>
<circle cx="604.0" cy="430.4" r="5.7" fill="#0000ff"/>
<rect x="636.4" y="419.4" width="21.8" height="22.0" fill="none" stroke="#00ff00" stroke-width="1.35" stroke-opacity="0.78"/>
<path d="M638.8 430.4 L647.3 421.9 L655.8 430.4 L647.3 438.8 Z" fill="#00ff00"/>
<rect x="658.2" y="419.4" width="5.6" height="22.0" fill="none" stroke="#00ff00" stroke-width="1.35" stroke-opacity="0.78"/>
<path d="M656.3 430.4 L661.0 425.6 L665.7 430.4 L661.0 435.1 Z" fill="#00ff00"/>
<rect x="592.2" y="397.4" width="5.1" height="22.0" fill="none" stroke="#0000ff" stroke-width="1.35" stroke-opacity="0.78"/>
<circle cx="594.8" cy="408.4" r="3.6" fill="#0000ff"/>
<rect x="665.5" y="397.4" width="4.0" height="22.0" fill="none" stroke="#0000ff" stroke-width="1.35" stroke-opacity="0.78"/>
<circle cx="667.5" cy="408.4" r="3.0" fill="#0000ff"/>
<rect x="669.5" y="397.4" width="39.0" height="22.0" fill="none" stroke="#0000ff" stroke-width="1.35" stroke-opacity="0.78"/>
<circle cx="689.0" cy="408.4" r="8.1" fill="#0000ff"/>
<rect x="663.8" y="353.5" width="1.8" height="22.0" fill="none" stroke="#0000ff" stroke-width="1.35" stroke-opacity="0.78"/>
<circle cx="664.7" cy="364.4" r="1.3" fill="#0000ff"/>
<rect x="830.4" y="375.4" width="3.1" height="22.0" fill="none" stroke="#00ff00" stroke-width="1.35" stroke-opacity="0.78"/>
<path d="M828.8 386.4 L832.0 383.3 L835.1 386.4 L832.0 389.5 Z" fill="#00ff00"/>
<rect x="833.5" y="375.4" width="16.5" height="22.0" fill="none" stroke="#00ff00" stroke-width="1.35" stroke-opacity="0.78"/>
<path d="M834.0 386.4 L841.8 378.7 L849.5 386.4 L841.8 394.1 Z" fill="#00ff00"/>
<rect x="809.2" y="331.5" width="10.8" height="22.0" fill="none" stroke="#0000ff" stroke-width="1.35" stroke-opacity="0.78"/>
<circle cx="814.6" cy="342.5" r="5.2" fill="#0000ff"/>
<rect x="820.0" y="331.5" width="3.4" height="22.0" fill="none" stroke="#0000ff" stroke-width="1.35" stroke-opacity="0.78"/>
<circle cx="821.7" cy="342.5" r="2.7" fill="#0000ff"/>
<rect x="823.4" y="331.5" width="8.0" height="22.0" fill="none" stroke="#0000ff" stroke-width="1.35" stroke-opacity="0.78"/>
<circle cx="827.4" cy="342.5" r="4.6" fill="#0000ff"/>
<rect x="819.0" y="309.5" width="5.5" height="22.0" fill="none" stroke="#0000ff" stroke-width="1.35" stroke-opacity="0.78"/>
<circle cx="821.8" cy="320.5" r="4.0" fill="#0000ff"/>
<rect x="882.2" y="309.5" width="13.5" height="22.0" fill="none" stroke="#00ff00" stroke-width="1.35" stroke-opacity="0.78"/>
<path d="M881.8 320.5 L889.0 313.4 L896.1 320.5 L889.0 327.7 Z" fill="#00ff00"/>
<rect x="856.5" y="287.6" width="10.7" height="22.0" fill="none" stroke="#0000ff" stroke-width="1.35" stroke-opacity="0.78"/>
<circle cx="861.9" cy="298.5" r="5.2" fill="#0000ff"/>
<rect x="867.2" y="287.6" width="11.4" height="22.0" fill="none" stroke="#0000ff" stroke-width="1.35" stroke-opacity="0.78"/>
<circle cx="872.9" cy="298.5" r="5.4" fill="#0000ff"/>
<rect x="900.4" y="265.6" width="4.8" height="22.0" fill="none" stroke="#0000ff" stroke-width="1.35" stroke-opacity="0.78"/>
<circle cx="902.8" cy="276.6" r="3.5" fill="#0000ff"/>
<rect x="905.2" y="265.6" width="6.6" height="22.0" fill="none" stroke="#0000ff" stroke-width="1.35" stroke-opacity="0.78"/>
<circle cx="908.5" cy="276.6" r="4.2" fill="#0000ff"/>
<rect x="912.6" y="243.6" width="10.0" height="22.0" fill="none" stroke="#0000ff" stroke-width="1.35" stroke-opacity="0.78"/>
<circle cx="917.6" cy="254.6" r="5.1" fill="#0000ff"/>
<rect x="922.6" y="221.6" width="105.5" height="22.0" fill="none" stroke="#0000ff" stroke-width="1.35" stroke-opacity="0.78"/>
<circle cx="975.3" cy="232.6" r="10.2" fill="#0000ff"/>
<rect x="1047.1" y="221.6" width="93.6" height="22.0" fill="none" stroke="#0000ff" stroke-width="1.35" stroke-opacity="0.78"/>
<circle cx="1093.9" cy="232.6" r="10.0" fill="#0000ff"/>
<rect x="1028.1" y="243.6" width="5.5" height="22.0" fill="none" stroke="#00ff00" stroke-width="1.35" stroke-opacity="0.78"/>
<path d="M1026.2 254.6 L1030.8 249.9 L1035.5 254.6 L1030.8 259.3 Z" fill="#00ff00"/>
<rect x="1032.5" y="199.7" width="6.7" height="22.0" fill="none" stroke="#0000ff" stroke-width="1.35" stroke-opacity="0.78"/>
<circle cx="1035.8" cy="210.7" r="4.2" fill="#0000ff"/>
<rect x="1039.2" y="199.7" width="3.5" height="22.0" fill="none" stroke="#0000ff" stroke-width="1.35" stroke-opacity="0.78"/>
<circle cx="1041.0" cy="210.7" r="2.8" fill="#0000ff"/>
<rect x="1042.7" y="199.7" width="4.4" height="22.0" fill="none" stroke="#0000ff" stroke-width="1.35" stroke-opacity="0.78"/>
<circle cx="1044.9" cy="210.7" r="4.0" fill="#0000ff"/>
<rect x="1140.7" y="199.7" width="7.1" height="22.0" fill="none" stroke="#0000ff" stroke-width="1.35" stroke-opacity="0.78"/>
<circle cx="1144.2" cy="210.7" r="4.3" fill="#0000ff"/>
<rect x="1152.6" y="199.7" width="9.4" height="22.0" fill="none" stroke="#0000ff" stroke-width="1.35" stroke-opacity="0.78"/>
<circle cx="1157.3" cy="210.7" r="4.9" fill="#0000ff"/>
<rect x="1148.6" y="177.7" width="6.0" height="22.0" fill="none" stroke="#0000ff" stroke-width="1.35" stroke-opacity="0.78"/>
<circle cx="1151.6" cy="188.7" r="3.9" fill="#0000ff"/>
<rect x="1147.4" y="155.7" width="1.4" height="22.0" fill="none" stroke="#0000ff" stroke-width="1.35" stroke-opacity="0.78"/>
<circle cx="1148.1" cy="166.7" r="1.0" fill="#0000ff"/>
<rect x="1160.5" y="155.7" width="8.7" height="22.0" fill="none" stroke="#0000ff" stroke-width="1.35" stroke-opacity="0.78"/>
<circle cx="1164.8" cy="166.7" r="4.8" fill="#0000ff"/>
<rect x="1168.4" y="133.8" width="6.8" height="22.0" fill="none" stroke="#0000ff" stroke-width="1.35" stroke-opacity="0.78"/>
<circle cx="1171.8" cy="144.8" r="4.2" fill="#0000ff"/>
<rect x="1174.4" y="111.8" width="10.6" height="22.0" fill="none" stroke="#0000ff" stroke-width="1.35" stroke-opacity="0.78"/>
<circle cx="1179.7" cy="122.8" r="5.2" fill="#0000ff"/>
<rect x="1185.0" y="111.8" width="10.6" height="22.0" fill="none" stroke="#0000ff" stroke-width="1.35" stroke-opacity="0.78"/>
<circle cx="1190.3" cy="122.8" r="5.2" fill="#0000ff"/>
<rect x="1195.9" y="177.7" width="1.2" height="22.0" fill="none" stroke="#0000ff" stroke-width="1.35" stroke-opacity="0.78"/>
<circle cx="1196.5" cy="188.7" r="1.0" fill="#0000ff"/>
<rect x="1197.3" y="199.7" width="6.7" height="22.0" fill="none" stroke="#0000ff" stroke-width="1.35" stroke-opacity="0.78"/>
<circle cx="1200.7" cy="210.7" r="4.2" fill="#0000ff"/>
<rect x="1202.4" y="221.6" width="4.0" height="22.0" fill="none" stroke="#00ff00" stroke-width="1.35" stroke-opacity="0.78"/>
<path d="M1200.6 232.6 L1204.4 228.8 L1208.2 232.6 L1204.4 236.4 Z" fill="#00ff00"/>
<rect x="1206.4" y="221.6" width="3.1" height="22.0" fill="none" stroke="#00ff00" stroke-width="1.35" stroke-opacity="0.78"/>
<path d="M1204.8 232.6 L1208.0 229.5 L1211.1 232.6 L1208.0 235.7 Z" fill="#00ff00"/>
<rect x="1209.5" y="221.6" width="2.4" height="22.0" fill="none" stroke="#00ff00" stroke-width="1.35" stroke-opacity="0.78"/>
<path d="M1208.3 232.6 L1210.7 230.2 L1213.1 232.6 L1210.7 235.0 Z" fill="#00ff00"/>
<rect x="1211.9" y="221.6" width="26.1" height="22.0" fill="none" stroke="#00ff00" stroke-width="1.35" stroke-opacity="0.78"/>
<path d="M1216.0 232.6 L1225.0 223.7 L1233.9 232.6 L1225.0 241.6 Z" fill="#00ff00"/>
<line x1="174.2" y1="35" x2="174.2" y2="542" stroke="#ff0000" stroke-width="4" stroke-dasharray="4.4 0.6"/>
<line x1="489.5" y1="35" x2="489.5" y2="542" stroke="#ff0000" stroke-width="4" stroke-dasharray="4.4 0.6"/>
<line x1="597.3" y1="35" x2="597.3" y2="542" stroke="#ff0000" stroke-width="4" stroke-dasharray="4.4 0.6"/>
<line x1="767.5" y1="35" x2="767.5" y2="542" stroke="#ff0000" stroke-width="4" stroke-dasharray="4.4 0.6"/>
<line x1="912.7" y1="35" x2="912.7" y2="542" stroke="#ff0000" stroke-width="4" stroke-dasharray="4.4 0.6"/>
<line x1="1014.0" y1="35" x2="1014.0" y2="542" stroke="#ff0000" stroke-width="4" stroke-dasharray="4.4 0.6"/>
<line x1="1164.3" y1="35" x2="1164.3" y2="542" stroke="#ff0000" stroke-width="4" stroke-dasharray="4.4 0.6"/>
<line x1="1253.9" y1="35" x2="1253.9" y2="542" stroke="#ff0000" stroke-width="4" stroke-dasharray="4.4 0.6"/>
</g>
<rect x="127.6" y="13.3" width="1135.4" height="569.9" fill="none" stroke="#3a3a3a" stroke-width="2.5"/>
<line x1="127.6" y1="13.3" x2="1263.0" y2="13.3" stroke="#8a8a8a" stroke-width="2.4"/>
<line x1="127.6" y1="34.9" x2="134.6" y2="34.9" stroke="#707070" stroke-width="1.4"/>
<line x1="1255.0" y1="34.9" x2="1263.0" y2="34.9" stroke="#707070" stroke-width="1.4"/>
<text x="77.3" y="42.5" font-family="Liberation Sans, Arial, Helvetica, sans-serif" font-size="20.7" fill="#111" stroke="#111" stroke-width="0.3" text-anchor="end">years</text>
<text x="1287" y="42.5" font-family="Liberation Sans, Arial, Helvetica, sans-serif" font-size="20.7" fill="#111" stroke="#111" stroke-width="0.3">år</text>
<line x1="127.6" y1="56.9" x2="134.6" y2="56.9" stroke="#707070" stroke-width="1.4"/>
<line x1="1255.0" y1="56.9" x2="1263.0" y2="56.9" stroke="#707070" stroke-width="1.4"/>
<text x="77.3" y="64.5" font-family="Liberation Sans, Arial, Helvetica, sans-serif" font-size="20.7" fill="#111" stroke="#111" stroke-width="0.3" text-anchor="end">17</text>
<text x="1287" y="64.5" font-family="Liberation Sans, Arial, Helvetica, sans-serif" font-size="20.7" fill="#111" stroke="#111" stroke-width="0.3">17</text>
<line x1="127.6" y1="78.8" x2="134.6" y2="78.8" stroke="#707070" stroke-width="1.4"/>
<line x1="1255.0" y1="78.8" x2="1263.0" y2="78.8" stroke="#707070" stroke-width="1.4"/>
<text x="77.3" y="86.4" font-family="Liberation Sans, Arial, Helvetica, sans-serif" font-size="20.7" fill="#111" stroke="#111" stroke-width="0.3" text-anchor="end">in</text>
<text x="1287" y="86.4" font-family="Liberation Sans, Arial, Helvetica, sans-serif" font-size="20.7" fill="#111" stroke="#111" stroke-width="0.3">i</text>
<line x1="127.6" y1="100.8" x2="134.6" y2="100.8" stroke="#707070" stroke-width="1.4"/>
<line x1="1255.0" y1="100.8" x2="1263.0" y2="100.8" stroke="#707070" stroke-width="1.4"/>
<text x="77.3" y="108.4" font-family="Liberation Sans, Arial, Helvetica, sans-serif" font-size="20.7" fill="#111" stroke="#111" stroke-width="0.3" text-anchor="end">rate</text>
<text x="1287" y="108.4" font-family="Liberation Sans, Arial, Helvetica, sans-serif" font-size="20.7" fill="#111" stroke="#111" stroke-width="0.3">hastighed</text>
<line x1="127.6" y1="122.8" x2="134.6" y2="122.8" stroke="#707070" stroke-width="1.4"/>
<line x1="1255.0" y1="122.8" x2="1263.0" y2="122.8" stroke="#707070" stroke-width="1.4"/>
<text x="77.3" y="130.4" font-family="Liberation Sans, Arial, Helvetica, sans-serif" font-size="20.7" fill="#111" stroke="#111" stroke-width="0.3" text-anchor="end">fastest</text>
<text x="1287" y="130.4" font-family="Liberation Sans, Arial, Helvetica, sans-serif" font-size="20.7" fill="#111" stroke="#111" stroke-width="0.3">største</text>
<line x1="127.6" y1="144.8" x2="134.6" y2="144.8" stroke="#707070" stroke-width="1.4"/>
<line x1="1255.0" y1="144.8" x2="1263.0" y2="144.8" stroke="#707070" stroke-width="1.4"/>
<text x="77.3" y="152.3" font-family="Liberation Sans, Arial, Helvetica, sans-serif" font-size="20.7" fill="#111" stroke="#111" stroke-width="0.3" text-anchor="end">their</text>
<text x="1287" y="152.3" font-family="Liberation Sans, Arial, Helvetica, sans-serif" font-size="20.7" fill="#111" stroke="#111" stroke-width="0.3">den</text>
<line x1="127.6" y1="166.7" x2="134.6" y2="166.7" stroke="#707070" stroke-width="1.4"/>
<line x1="1255.0" y1="166.7" x2="1263.0" y2="166.7" stroke="#707070" stroke-width="1.4"/>
<text x="77.3" y="174.3" font-family="Liberation Sans, Arial, Helvetica, sans-serif" font-size="20.7" fill="#111" stroke="#111" stroke-width="0.3" text-anchor="end">at</text>
<text x="1287" y="174.3" font-family="Liberation Sans, Arial, Helvetica, sans-serif" font-size="20.7" fill="#111" stroke="#111" stroke-width="0.3">med</text>
<line x1="127.6" y1="188.7" x2="134.6" y2="188.7" stroke="#707070" stroke-width="1.4"/>
<line x1="1255.0" y1="188.7" x2="1263.0" y2="188.7" stroke="#707070" stroke-width="1.4"/>
<text x="77.3" y="196.3" font-family="Liberation Sans, Arial, Helvetica, sans-serif" font-size="20.7" fill="#111" stroke="#111" stroke-width="0.3" text-anchor="end">soar</text>
<text x="1287" y="196.3" font-family="Liberation Sans, Arial, Helvetica, sans-serif" font-size="20.7" fill="#111" stroke="#111" stroke-width="0.3">stiger</text>
<line x1="127.6" y1="210.7" x2="134.6" y2="210.7" stroke="#707070" stroke-width="1.4"/>
<line x1="1255.0" y1="210.7" x2="1263.0" y2="210.7" stroke="#707070" stroke-width="1.4"/>
<text x="77.3" y="218.3" font-family="Liberation Sans, Arial, Helvetica, sans-serif" font-size="20.7" fill="#111" stroke="#111" stroke-width="0.3" text-anchor="end">prices</text>
<text x="1287" y="218.3" font-family="Liberation Sans, Arial, Helvetica, sans-serif" font-size="20.7" fill="#111" stroke="#111" stroke-width="0.3">benzinpriser</text>
<line x1="127.6" y1="232.6" x2="134.6" y2="232.6" stroke="#707070" stroke-width="1.4"/>
<line x1="1255.0" y1="232.6" x2="1263.0" y2="232.6" stroke="#707070" stroke-width="1.4"/>
<text x="77.3" y="240.2" font-family="Liberation Sans, Arial, Helvetica, sans-serif" font-size="20.7" fill="#111" stroke="#111" stroke-width="0.3" text-anchor="end">fuel</text>
<text x="1287" y="240.2" font-family="Liberation Sans, Arial, Helvetica, sans-serif" font-size="20.7" fill="#111" stroke="#111" stroke-width="0.3">benzinpriser</text>
<line x1="127.6" y1="254.6" x2="134.6" y2="254.6" stroke="#707070" stroke-width="1.4"/>
<line x1="1255.0" y1="254.6" x2="1263.0" y2="254.6" stroke="#707070" stroke-width="1.4"/>
<text x="77.3" y="262.2" font-family="Liberation Sans, Arial, Helvetica, sans-serif" font-size="20.7" fill="#111" stroke="#111" stroke-width="0.3" text-anchor="end">and</text>
<text x="1287" y="262.2" font-family="Liberation Sans, Arial, Helvetica, sans-serif" font-size="20.7" fill="#111" stroke="#111" stroke-width="0.3">og</text>
<line x1="127.6" y1="276.6" x2="134.6" y2="276.6" stroke="#707070" stroke-width="1.4"/>
<line x1="1255.0" y1="276.6" x2="1263.0" y2="276.6" stroke="#707070" stroke-width="1.4"/>
<text x="77.3" y="284.2" font-family="Liberation Sans, Arial, Helvetica, sans-serif" font-size="20.7" fill="#111" stroke="#111" stroke-width="0.3" text-anchor="end">food</text>
<text x="1287" y="284.2" font-family="Liberation Sans, Arial, Helvetica, sans-serif" font-size="20.7" fill="#111" stroke="#111" stroke-width="0.3">fødevare-</text>
<line x1="127.6" y1="298.5" x2="134.6" y2="298.5" stroke="#707070" stroke-width="1.4"/>
<line x1="1255.0" y1="298.5" x2="1263.0" y2="298.5" stroke="#707070" stroke-width="1.4"/>
<text x="77.3" y="306.1" font-family="Liberation Sans, Arial, Helvetica, sans-serif" font-size="20.7" fill="#111" stroke="#111" stroke-width="0.3" text-anchor="end">as</text>
<text x="1287" y="306.1" font-family="Liberation Sans, Arial, Helvetica, sans-serif" font-size="20.7" fill="#111" stroke="#111" stroke-width="0.3">da</text>
<line x1="127.6" y1="320.5" x2="134.6" y2="320.5" stroke="#707070" stroke-width="1.4"/>
<line x1="1255.0" y1="320.5" x2="1263.0" y2="320.5" stroke="#707070" stroke-width="1.4"/>
<text x="77.3" y="328.1" font-family="Liberation Sans, Arial, Helvetica, sans-serif" font-size="20.7" fill="#111" stroke="#111" stroke-width="0.3" text-anchor="end">year</text>
<text x="1287" y="328.1" font-family="Liberation Sans, Arial, Helvetica, sans-serif" font-size="20.7" fill="#111" stroke="#111" stroke-width="0.3">året</text>
<line x1="127.6" y1="342.5" x2="134.6" y2="342.5" stroke="#707070" stroke-width="1.4"/>
<line x1="1255.0" y1="342.5" x2="1263.0" y2="342.5" stroke="#707070" stroke-width="1.4"/>
<text x="77.3" y="350.1" font-family="Liberation Sans, Arial, Helvetica, sans-serif" font-size="20.7" fill="#111" stroke="#111" stroke-width="0.3" text-anchor="end">a</text>
<text x="1287" y="350.1" font-family="Liberation Sans, Arial, Helvetica, sans-serif" font-size="20.7" fill="#111" stroke="#111" stroke-width="0.3">om</text>
<line x1="127.6" y1="364.4" x2="134.6" y2="364.4" stroke="#707070" stroke-width="1.4"/>
<line x1="1255.0" y1="364.4" x2="1263.0" y2="364.4" stroke="#707070" stroke-width="1.4"/>
<text x="77.3" y="372.0" font-family="Liberation Sans, Arial, Helvetica, sans-serif" font-size="20.7" fill="#111" stroke="#111" stroke-width="0.3" text-anchor="end">31,300</text>
<text x="1287" y="372.0" font-family="Liberation Sans, Arial, Helvetica, sans-serif" font-size="20.7" fill="#111" stroke="#111" stroke-width="0.3">1.300</text>
<line x1="127.6" y1="386.4" x2="134.6" y2="386.4" stroke="#707070" stroke-width="1.4"/>
<line x1="1255.0" y1="386.4" x2="1263.0" y2="386.4" stroke="#707070" stroke-width="1.4"/>
<text x="77.3" y="394.0" font-family="Liberation Sans, Arial, Helvetica, sans-serif" font-size="20.7" fill="#111" stroke="#111" stroke-width="0.3" text-anchor="end">£</text>
<text x="1287" y="394.0" font-family="Liberation Sans, Arial, Helvetica, sans-serif" font-size="20.7" fill="#111" stroke="#111" stroke-width="0.3">pund</text>
<line x1="127.6" y1="408.4" x2="134.6" y2="408.4" stroke="#707070" stroke-width="1.4"/>
<line x1="1255.0" y1="408.4" x2="1263.0" y2="408.4" stroke="#707070" stroke-width="1.4"/>
<text x="77.3" y="416.0" font-family="Liberation Sans, Arial, Helvetica, sans-serif" font-size="20.7" fill="#111" stroke="#111" stroke-width="0.3" text-anchor="end">extra</text>
<text x="1287" y="416.0" font-family="Liberation Sans, Arial, Helvetica, sans-serif" font-size="20.7" fill="#111" stroke="#111" stroke-width="0.3">ekstra</text>
<line x1="127.6" y1="430.4" x2="134.6" y2="430.4" stroke="#707070" stroke-width="1.4"/>
<line x1="1255.0" y1="430.4" x2="1263.0" y2="430.4" stroke="#707070" stroke-width="1.4"/>
<text x="77.3" y="438.0" font-family="Liberation Sans, Arial, Helvetica, sans-serif" font-size="20.7" fill="#111" stroke="#111" stroke-width="0.3" text-anchor="end">an</text>
<text x="1287" y="438.0" font-family="Liberation Sans, Arial, Helvetica, sans-serif" font-size="20.7" fill="#111" stroke="#111" stroke-width="0.3">ekstra</text>
<line x1="127.6" y1="452.3" x2="134.6" y2="452.3" stroke="#707070" stroke-width="1.4"/>
<line x1="1255.0" y1="452.3" x2="1263.0" y2="452.3" stroke="#707070" stroke-width="1.4"/>
<text x="77.3" y="459.9" font-family="Liberation Sans, Arial, Helvetica, sans-serif" font-size="20.7" fill="#111" stroke="#111" stroke-width="0.3" text-anchor="end">up</text>
<text x="1287" y="459.9" font-family="Liberation Sans, Arial, Helvetica, sans-serif" font-size="20.7" fill="#111" stroke="#111" stroke-width="0.3">op_med</text>
<line x1="127.6" y1="474.3" x2="134.6" y2="474.3" stroke="#707070" stroke-width="1.4"/>
<line x1="1255.0" y1="474.3" x2="1263.0" y2="474.3" stroke="#707070" stroke-width="1.4"/>
<text x="77.3" y="481.9" font-family="Liberation Sans, Arial, Helvetica, sans-serif" font-size="20.7" fill="#111" stroke="#111" stroke-width="0.3" text-anchor="end">cough</text>
<text x="1287" y="481.9" font-family="Liberation Sans, Arial, Helvetica, sans-serif" font-size="20.7" fill="#111" stroke="#111" stroke-width="0.3">hoste</text>
<line x1="127.6" y1="496.3" x2="134.6" y2="496.3" stroke="#707070" stroke-width="1.4"/>
<line x1="1255.0" y1="496.3" x2="1263.0" y2="496.3" stroke="#707070" stroke-width="1.4"/>
<text x="77.3" y="503.9" font-family="Liberation Sans, Arial, Helvetica, sans-serif" font-size="20.7" fill="#111" stroke="#111" stroke-width="0.3" text-anchor="end">to</text>
<text x="1287" y="503.9" font-family="Liberation Sans, Arial, Helvetica, sans-serif" font-size="20.7" fill="#111" stroke="#111" stroke-width="0.3">skal</text>
<line x1="127.6" y1="518.2" x2="134.6" y2="518.2" stroke="#707070" stroke-width="1.4"/>
<line x1="1255.0" y1="518.2" x2="1263.0" y2="518.2" stroke="#707070" stroke-width="1.4"/>
<text x="77.3" y="525.8" font-family="Liberation Sans, Arial, Helvetica, sans-serif" font-size="20.7" fill="#111" stroke="#111" stroke-width="0.3" text-anchor="end">have</text>
<text x="1287" y="525.8" font-family="Liberation Sans, Arial, Helvetica, sans-serif" font-size="20.7" fill="#111" stroke="#111" stroke-width="0.3">skal</text>
<line x1="127.6" y1="540.2" x2="134.6" y2="540.2" stroke="#707070" stroke-width="1.4"/>
<line x1="1255.0" y1="540.2" x2="1263.0" y2="540.2" stroke="#707070" stroke-width="1.4"/>
<text x="77.3" y="547.8" font-family="Liberation Sans, Arial, Helvetica, sans-serif" font-size="20.7" fill="#111" stroke="#111" stroke-width="0.3" text-anchor="end">families</text>
<text x="1287" y="547.8" font-family="Liberation Sans, Arial, Helvetica, sans-serif" font-size="20.7" fill="#111" stroke="#111" stroke-width="0.3">familier</text>
<line x1="127.6" y1="562.2" x2="134.6" y2="562.2" stroke="#707070" stroke-width="1.4"/>
<line x1="1255.0" y1="562.2" x2="1263.0" y2="562.2" stroke="#707070" stroke-width="1.4"/>
<text x="77.3" y="569.8" font-family="Liberation Sans, Arial, Helvetica, sans-serif" font-size="20.7" fill="#111" stroke="#111" stroke-width="0.3" text-anchor="end">British</text>
<text x="1287" y="569.8" font-family="Liberation Sans, Arial, Helvetica, sans-serif" font-size="20.7" fill="#111" stroke="#111" stroke-width="0.3">Britiske</text>
<line x1="169.9" y1="583.2" x2="169.9" y2="596.4" stroke="#5a5a5a" stroke-width="2.2"/>
<text x="169.9" y="617.4" font-family="Liberation Sans, Arial, Helvetica, sans-serif" font-size="20.3" fill="#111" stroke="#111" stroke-width="0.3" text-anchor="middle">16000</text>
<line x1="223.8" y1="583.2" x2="223.8" y2="596.4" stroke="#5a5a5a" stroke-width="2.2"/>
<line x1="277.6" y1="583.2" x2="277.6" y2="596.4" stroke="#5a5a5a" stroke-width="2.2"/>
<text x="277.6" y="617.4" font-family="Liberation Sans, Arial, Helvetica, sans-serif" font-size="20.3" fill="#111" stroke="#111" stroke-width="0.3" text-anchor="middle">20000</text>
<line x1="331.5" y1="583.2" x2="331.5" y2="596.4" stroke="#5a5a5a" stroke-width="2.2"/>
<line x1="385.3" y1="583.2" x2="385.3" y2="596.4" stroke="#5a5a5a" stroke-width="2.2"/>
<text x="385.3" y="617.4" font-family="Liberation Sans, Arial, Helvetica, sans-serif" font-size="20.3" fill="#111" stroke="#111" stroke-width="0.3" text-anchor="middle">24000</text>
<line x1="439.2" y1="583.2" x2="439.2" y2="596.4" stroke="#5a5a5a" stroke-width="2.2"/>
<line x1="493.1" y1="583.2" x2="493.1" y2="596.4" stroke="#5a5a5a" stroke-width="2.2"/>
<text x="493.1" y="617.4" font-family="Liberation Sans, Arial, Helvetica, sans-serif" font-size="20.3" fill="#111" stroke="#111" stroke-width="0.3" text-anchor="middle">28000</text>
<line x1="546.9" y1="583.2" x2="546.9" y2="596.4" stroke="#5a5a5a" stroke-width="2.2"/>
<line x1="600.8" y1="583.2" x2="600.8" y2="596.4" stroke="#5a5a5a" stroke-width="2.2"/>
<text x="600.8" y="617.4" font-family="Liberation Sans, Arial, Helvetica, sans-serif" font-size="20.3" fill="#111" stroke="#111" stroke-width="0.3" text-anchor="middle">32000</text>
<line x1="654.6" y1="583.2" x2="654.6" y2="596.4" stroke="#5a5a5a" stroke-width="2.2"/>
<line x1="708.5" y1="583.2" x2="708.5" y2="596.4" stroke="#5a5a5a" stroke-width="2.2"/>
<text x="708.5" y="617.4" font-family="Liberation Sans, Arial, Helvetica, sans-serif" font-size="20.3" fill="#111" stroke="#111" stroke-width="0.3" text-anchor="middle">36000</text>
<line x1="762.4" y1="583.2" x2="762.4" y2="596.4" stroke="#5a5a5a" stroke-width="2.2"/>
<line x1="816.2" y1="583.2" x2="816.2" y2="596.4" stroke="#5a5a5a" stroke-width="2.2"/>
<text x="816.2" y="617.4" font-family="Liberation Sans, Arial, Helvetica, sans-serif" font-size="20.3" fill="#111" stroke="#111" stroke-width="0.3" text-anchor="middle">40000</text>
<line x1="870.1" y1="583.2" x2="870.1" y2="596.4" stroke="#5a5a5a" stroke-width="2.2"/>
<line x1="923.9" y1="583.2" x2="923.9" y2="596.4" stroke="#5a5a5a" stroke-width="2.2"/>
<text x="923.9" y="617.4" font-family="Liberation Sans, Arial, Helvetica, sans-serif" font-size="20.3" fill="#111" stroke="#111" stroke-width="0.3" text-anchor="middle">44000</text>
<line x1="977.8" y1="583.2" x2="977.8" y2="596.4" stroke="#5a5a5a" stroke-width="2.2"/>
<line x1="1031.7" y1="583.2" x2="1031.7" y2="596.4" stroke="#5a5a5a" stroke-width="2.2"/>
<text x="1031.7" y="617.4" font-family="Liberation Sans, Arial, Helvetica, sans-serif" font-size="20.3" fill="#111" stroke="#111" stroke-width="0.3" text-anchor="middle">48000</text>
<line x1="1085.5" y1="583.2" x2="1085.5" y2="596.4" stroke="#5a5a5a" stroke-width="2.2"/>
<line x1="1139.4" y1="583.2" x2="1139.4" y2="596.4" stroke="#5a5a5a" stroke-width="2.2"/>
<text x="1139.4" y="617.4" font-family="Liberation Sans, Arial, Helvetica, sans-serif" font-size="20.3" fill="#111" stroke="#111" stroke-width="0.3" text-anchor="middle">52000</text>
<line x1="1193.2" y1="583.2" x2="1193.2" y2="596.4" stroke="#5a5a5a" stroke-width="2.2"/>
<line x1="1247.1" y1="583.2" x2="1247.1" y2="596.4" stroke="#5a5a5a" stroke-width="2.2"/>
<text x="1247.1" y="617.4" font-family="Liberation Sans, Arial, Helvetica, sans-serif" font-size="20.3" fill="#111" stroke="#111" stroke-width="0.3" text-anchor="middle">56000</text>
</svg>
</body></html>
